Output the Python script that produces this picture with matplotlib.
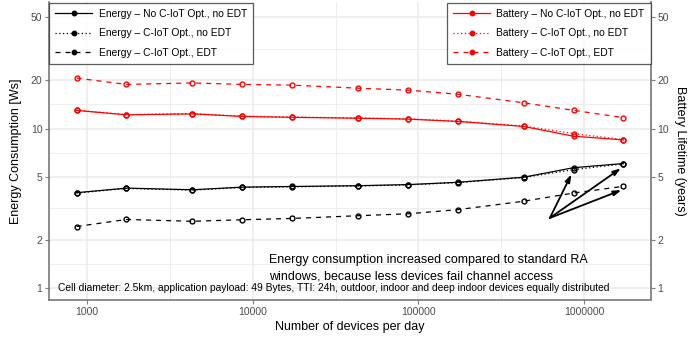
import matplotlib
matplotlib.use("Agg")
import matplotlib.pyplot as plt
from matplotlib.lines import Line2D
import numpy as np

plt.rcParams['font.family'] = ['Liberation Sans', 'DejaVu Sans']

# Devices per day (arrival rate per second * 86400)
devices = [864, 1728, 4320, 8640, 17280, 43200, 86400, 172800, 432000, 864000, 1728000]

energy_no_opt = [3.96, 4.23, 4.13, 4.29, 4.33, 4.38, 4.45, 4.60, 4.95, 5.68, 6.03]
energy_opt_no_edt = [3.94, 4.21, 4.11, 4.27, 4.31, 4.36, 4.43, 4.58, 4.93, 5.52, 6.00]
energy_opt_edt = [2.43, 2.69, 2.62, 2.68, 2.73, 2.84, 2.92, 3.10, 3.50, 3.94, 4.34]

battery_no_opt = [12.98, 12.18, 12.35, 11.90, 11.75, 11.60, 11.45, 11.08, 10.30, 8.95, 8.48]
battery_opt_no_edt = [13.02, 12.22, 12.40, 11.95, 11.80, 11.65, 11.50, 11.12, 10.36, 9.30, 8.52]
battery_opt_edt = [20.7, 18.9, 19.3, 18.9, 18.7, 17.9, 17.4, 16.4, 14.5, 13.0, 11.7]

y_ticks = [1, 2, 5, 10, 20, 50]
x_ticks = [1000, 10000, 100000, 1000000]
x_tick_labels = ["1000", "10000", "100000", "1000000"]

energy_labels = ["Energy \u2013 No C-IoT Opt., no EDT",
                 "Energy \u2013 C-IoT Opt., no EDT",
                 "Energy \u2013 C-IoT Opt., EDT"]
battery_labels = ["Battery \u2013 No C-IoT Opt., no EDT",
                  "Battery \u2013 C-IoT Opt., no EDT",
                  "Battery \u2013 C-IoT Opt., EDT"]

annotation = ("Energy consumption increased compared to standard RA\n"
              "windows, because less devices fail channel access")
caption = ("Cell diameter: 2.5km, application payload: 49 Bytes, TTI: 24h, "
           "outdoor, indoor and deep indoor devices equally distributed")

W, H = 699, 342
fig = plt.figure(figsize=(W / 100, H / 100), dpi=100)
L, R, B, T = 49.3, 650.7, 300, 2
ax = fig.add_axes([L / W, 1 - B / H, (R - L) / W, (B - T) / H])

ax.set_xscale('log')
ax.set_yscale('log')
lx0, lx1 = np.log10(864), np.log10(1728000)
ex = 0.05 * (lx1 - lx0)
ax.set_xlim(10 ** (lx0 - ex), 10 ** (lx1 + ex))
ax.set_ylim(10 ** -0.075, 10 ** 1.793)

# grid
grid_c = '#EBEBEB'
for t in x_ticks:
    ax.axvline(t, color=grid_c, lw=1.1, zorder=0)
for t in x_ticks[:-1]:
    ax.axvline(t * np.sqrt(10), color=grid_c, lw=0.6, zorder=0)
ax.axvline(1000 / np.sqrt(10), color=grid_c, lw=0.6, zorder=0)
for t in y_ticks:
    ax.axhline(t, color=grid_c, lw=1.1, zorder=0)
for a, b in zip(y_ticks[:-1], y_ticks[1:]):
    ax.axhline(np.sqrt(a * b), color=grid_c, lw=0.6, zorder=0)

lw = 0.9
dash = (0, (4, 4))
dot = (0, (1, 2))
mk = dict(marker='o', ms=3.5, mfc='none', mew=1.0)

ax.plot(devices, energy_no_opt, color='black', lw=lw, ls='-', **mk)
ax.plot(devices, energy_opt_no_edt, color='black', lw=lw, ls=dot, **mk)
ax.plot(devices, energy_opt_edt, color='black', lw=lw, ls=dash, **mk)
ax.plot(devices, battery_no_opt, color='red', lw=lw, ls='-', **mk)
ax.plot(devices, battery_opt_no_edt, color='red', lw=lw, ls=dot, **mk)
ax.plot(devices, battery_opt_edt, color='red', lw=lw, ls=dash, **mk)

ax.set_xticks(x_ticks)
ax.set_xticklabels(x_tick_labels)
ax.set_yticks(y_ticks)
ax.set_yticklabels([str(t) for t in y_ticks])
ax.xaxis.set_minor_locator(matplotlib.ticker.NullLocator())
ax.yaxis.set_minor_locator(matplotlib.ticker.NullLocator())

tick_c = '#4D4D4D'
ax.tick_params(axis='both', length=3, width=0.8, color='#7F7F7F',
               labelcolor=tick_c, labelsize=7.5, pad=2)
ax.spines['top'].set_visible(False)
for s in ['left', 'bottom', 'right']:
    ax.spines[s].set_color('#6E6E6E')
    ax.spines[s].set_linewidth(1.1)

ax.set_xlabel("Number of devices per day", fontsize=9, labelpad=3)
ax.set_ylabel("Energy Consumption [Ws]", fontsize=9, labelpad=6)

ax2 = ax.twinx()
ax2.set_yscale('log')
ax2.set_ylim(ax.get_ylim())
ax2.set_yticks(y_ticks)
ax2.set_yticklabels([str(t) for t in y_ticks])
ax2.yaxis.set_minor_locator(matplotlib.ticker.NullLocator())
ax2.tick_params(axis='y', length=3, width=0.8, color='#7F7F7F',
                labelcolor=tick_c, labelsize=7.5, pad=2)
for s in ['top', 'left', 'bottom']:
    ax2.spines[s].set_visible(False)
ax2.spines['right'].set_color('#8A8A8A')
ax2.spines['right'].set_linewidth(1.1)
ax2.set_ylabel("Battery Lifetime (years)", fontsize=9, rotation=270, labelpad=12)

# annotation text and arrows
ax.text(12600, 1.33, annotation, fontsize=9, ha='left', va='center',
        linespacing=1.55, zorder=6)
start = (622000, 2.75)
for tip in [(839000, 5.16), (1667000, 5.63), (1680000, 4.11)]:
    ax.annotate("", xy=tip, xytext=start,
                arrowprops=dict(arrowstyle='-|>,head_length=0.45,head_width=0.15',
                                color='black', lw=1.3, shrinkA=0, shrinkB=0),
                zorder=6)

ax.text(664, 1.0, caption, fontsize=7.4, ha='left', va='center', zorder=6)

# legends
lmk = dict(marker='o', ms=3.2, mfc='black', mec='black')
h_energy = [Line2D([], [], color='black', lw=lw, ls='-', **lmk),
            Line2D([], [], color='black', lw=lw, ls=dot, **lmk),
            Line2D([], [], color='black', lw=lw, ls=dash, **lmk)]
rmk = dict(marker='o', ms=3.2, mfc='red', mec='red')
h_batt = [Line2D([], [], color='red', lw=lw, ls='-', **rmk),
          Line2D([], [], color='red', lw=lw, ls=dot, **rmk),
          Line2D([], [], color='red', lw=lw, ls=dash, **rmk)]

leg_kw = dict(fontsize=7.4, frameon=True, fancybox=False, borderpad=0.6,
              labelspacing=0.9, handlelength=3.6, handletextpad=0.6,
              borderaxespad=0)
leg1 = ax2.legend(h_energy, energy_labels, loc='upper left',
                  bbox_to_anchor=(0, 0.997), **leg_kw)
leg1.get_frame().set_edgecolor('#333333')
leg1.get_frame().set_linewidth(0.9)
leg1.set_zorder(10)
ax2.add_artist(leg1)
leg2 = ax2.legend(h_batt, battery_labels, loc='upper right',
                  bbox_to_anchor=(1, 0.997), **leg_kw)
leg2.get_frame().set_edgecolor('#333333')
leg2.get_frame().set_linewidth(0.9)
leg2.set_zorder(10)

fig.savefig("out.png", dpi=100)
